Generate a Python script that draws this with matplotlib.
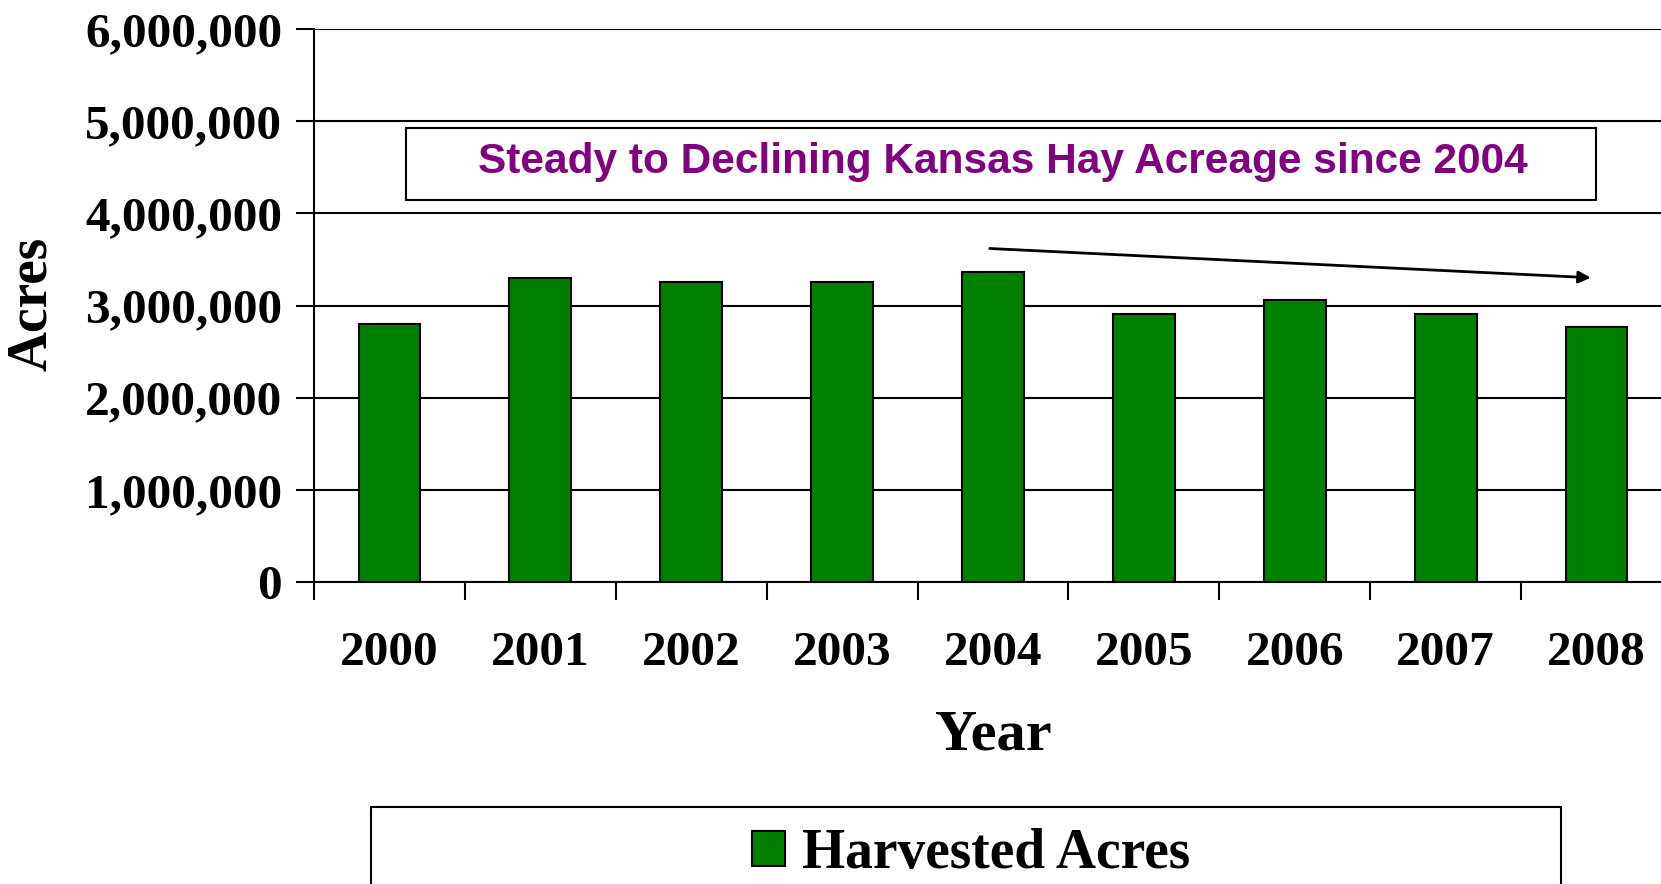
import matplotlib
matplotlib.use("Agg")
import matplotlib.pyplot as plt
from matplotlib.patches import Rectangle
from matplotlib.ticker import FuncFormatter, FixedLocator
import numpy as np

# Kansas harvested hay acreage
years = ["2000", "2001", "2002", "2003", "2004", "2005", "2006", "2007", "2008"]
harvested_acres = [2800000, 3300000, 3250000, 3250000, 3360000,
                   2910000, 3060000, 2910000, 2770000]
y_ticks = [0, 1000000, 2000000, 3000000, 4000000, 5000000, 6000000]

note = "Steady to Declining Kansas Hay Acreage since 2004"

W, H = 1661, 884
fig = plt.figure(figsize=(W / 100, H / 100), dpi=100)

# plot area in pixels: left 314, right 1672 (runs off the canvas), top 29, bottom 582
left, right, top, bottom = 314, 1672, 29, 582
ax = fig.add_axes([left / W, 1 - bottom / H, (right - left) / W, (bottom - top) / H])

serif = "Liberation Serif"
x = np.arange(len(years))
ax.bar(x, harvested_acres, width=0.41, color="#008000", edgecolor="black",
       linewidth=1.5, zorder=3, label="Harvested Acres")

ax.set_xlim(-0.5, len(years) - 0.5)
ax.set_ylim(0, 6000000)
ax.set_yticks(y_ticks)
ax.yaxis.set_major_formatter(FuncFormatter(lambda v, p: f"{int(v):,}"))
ax.grid(axis="y", color="black", linewidth=1.5, zorder=0)

# category ticks sit between the bars
ax.set_xticks(x)
ax.set_xticklabels(years)
ax.xaxis.set_minor_locator(FixedLocator(np.arange(-0.5, len(years), 1.0)))
ax.tick_params(axis="x", which="major", length=0, pad=35)
ax.tick_params(axis="x", which="minor", length=13, width=1.5, direction="out")
ax.tick_params(axis="y", length=13, width=1.5, direction="out", pad=10)

for lab in ax.get_xticklabels() + ax.get_yticklabels():
    lab.set_fontfamily(serif)
    lab.set_fontweight("bold")
    lab.set_fontsize(35.5)

for side in ["top", "right"]:
    ax.spines[side].set_visible(False)
for side in ["left", "bottom"]:
    ax.spines[side].set_linewidth(1.5)

fig.text(993 / W, 1 - 736 / H, "Year", family=serif, weight="bold",
         fontsize=42, ha="center", va="center")
fig.text(32 / W, 1 - 304 / H, "Acres", family=serif, weight="bold",
         fontsize=40, ha="center", va="center", rotation=90)

# note box
fig.patches.append(Rectangle((406 / W, 1 - 200 / H), (1596 - 406) / W, 72 / H,
                             transform=fig.transFigure, facecolor="white",
                             edgecolor="black", linewidth=1.5, zorder=5))
fig.text(1003 / W, 1 - 162 / H, note, family="Liberation Sans", weight="bold",
         fontsize=30.5, color="#800080", ha="center", va="center", zorder=6)

# trend arrow
ax.annotate("", xy=(7.98, 3300000), xytext=(3.96, 3620000),
            arrowprops=dict(arrowstyle="-|>", color="black", lw=2,
                            mutation_scale=18), zorder=6)

# legend box running off the bottom edge
fig.patches.append(Rectangle((371 / W, 1 - 900 / H), (1561 - 371) / W, 93 / H,
                             transform=fig.transFigure, facecolor="white",
                             edgecolor="black", linewidth=1.5, zorder=5))
handles, labels = ax.get_legend_handles_labels()
leg = fig.legend(handles, labels, loc="center", bbox_to_anchor=(971 / W, 1 - 854 / H),
                 frameon=False, prop={"family": serif, "weight": "bold", "size": 40},
                 handlelength=0.6, handleheight=0.6, handletextpad=0.3)
leg.set_zorder(7)

fig.savefig("out.png", dpi=100)
